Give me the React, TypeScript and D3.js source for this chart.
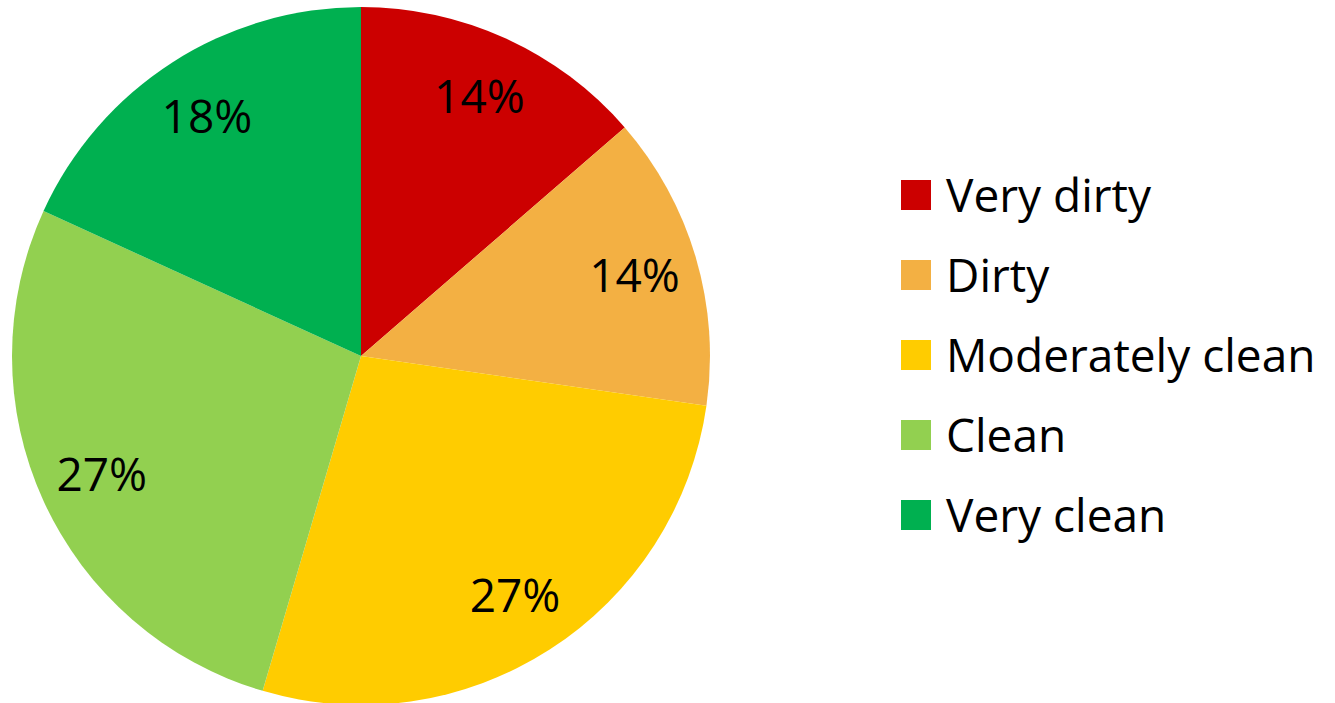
import { useEffect, useRef } from 'react'
import * as d3 from 'd3'

// counts per cleanliness rating (shown as percentages)
const CATEGORIES = ['Very dirty', 'Dirty', 'Moderately clean', 'Clean', 'Very clean']
const COUNTS = [3, 3, 6, 6, 4]
const LABELS = ['14%', '14%', '27%', '27%', '18%']
const COLORS = ['#CC0000', '#F3B043', '#FFCC00', '#92D050', '#00B050']

const WIDTH = 1335
const HEIGHT = 703
const FONT = '"Open Sans", "Noto Sans", sans-serif'

export default function App() {
  const svgRef = useRef<SVGSVGElement | null>(null)

  useEffect(() => {
    if (!svgRef.current) return
    const svg = d3.select(svgRef.current)
    svg.selectAll('*').remove()

    const cx = 361
    const cy = 356
    const radius = 349
    const labelRadius = 285

    const data = CATEGORIES.map((name, i) => ({ name, value: COUNTS[i], label: LABELS[i], color: COLORS[i] }))

    const pie = d3.pie<typeof data[number]>()
      .value(d => d.value)
      .sort(null)

    const arcs = pie(data)
    const arc = d3.arc<d3.PieArcDatum<typeof data[number]>>()
      .innerRadius(0)
      .outerRadius(radius)
    const labelArc = d3.arc<d3.PieArcDatum<typeof data[number]>>()
      .innerRadius(labelRadius)
      .outerRadius(labelRadius)

    const g = svg.append('g').attr('transform', `translate(${cx}, ${cy})`)

    g.selectAll('path.slice')
      .data(arcs)
      .join('path')
      .attr('class', 'slice')
      .attr('d', arc)
      .attr('fill', d => d.data.color)

    g.selectAll('text.pct')
      .data(arcs)
      .join('text')
      .attr('class', 'pct')
      .attr('transform', d => `translate(${labelArc.centroid(d)})`)
      .attr('text-anchor', 'middle')
      .attr('dy', '0.36em')
      .attr('font-family', FONT)
      .attr('font-size', 46)
      .attr('fill', '#000')
      .text(d => d.data.label)

    // legend
    const legend = svg.append('g').attr('transform', 'translate(901, 195)')
    const rowY = d3.scaleBand<string>()
      .domain(CATEGORIES)
      .range([0, 400])

    const rows = legend.selectAll('g.row')
      .data(data)
      .join('g')
      .attr('class', 'row')
      .attr('transform', d => `translate(0, ${rowY(d.name)})`)

    rows.append('rect')
      .attr('x', 0)
      .attr('y', -15)
      .attr('width', 30)
      .attr('height', 30)
      .attr('fill', d => d.color)

    rows.append('text')
      .attr('x', 45)
      .attr('y', 17)
      .attr('font-family', FONT)
      .attr('font-size', 46)
      .attr('fill', '#000')
      .text(d => d.name)
  }, [])

  return (
    <svg
      ref={svgRef}
      width={WIDTH}
      height={HEIGHT}
      style={{ position: 'absolute', left: 0, top: 0, background: '#fff' }}
    />
  )
}
